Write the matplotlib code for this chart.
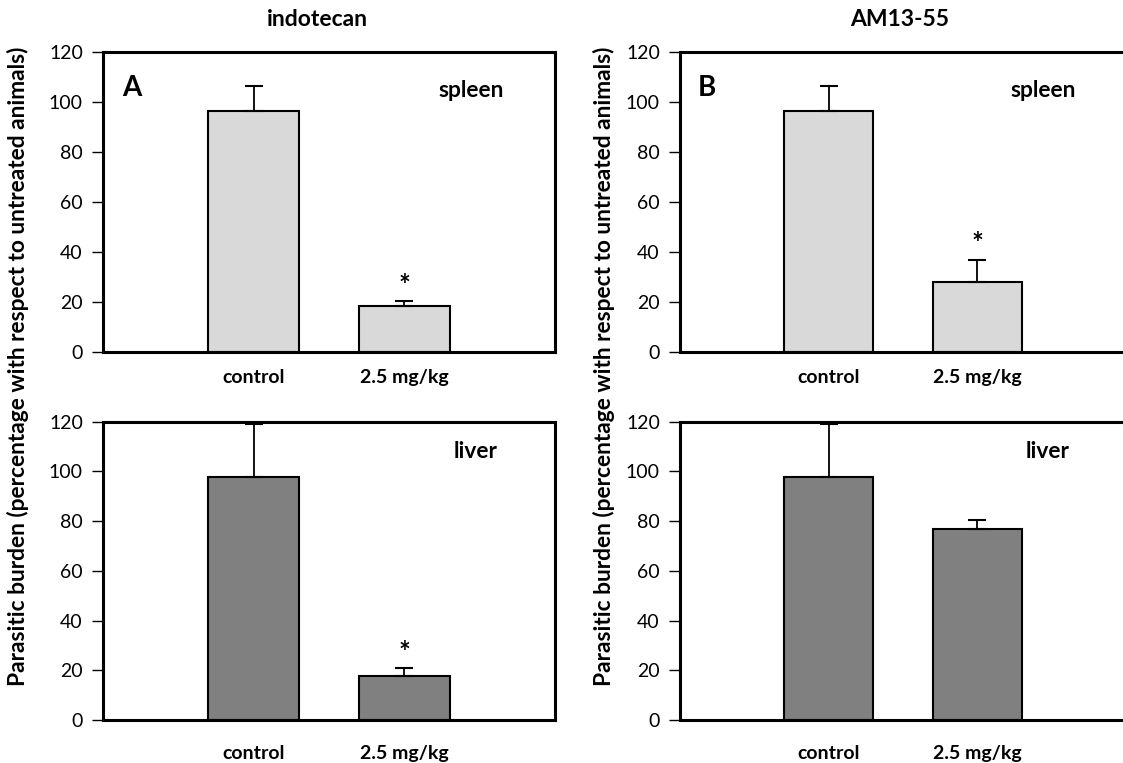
import matplotlib
matplotlib.use("Agg")
import matplotlib.pyplot as plt

plt.rcParams['font.family'] = ['Lato', 'DejaVu Sans']

W, H = 1123, 763

categories = ["control", "2.5 mg/kg"]
drugs = ["indotecan", "AM13-55"]
panel_letters = ["A", "B"]
organs = ["spleen", "liver"]

# values -> [control, 2.5 mg/kg]
spleen_indotecan = [96.5, 18.5]
spleen_indotecan_err = [10.0, 1.8]
spleen_am1355 = [96.4, 28.1]
spleen_am1355_err = [10.0, 8.7]
liver_indotecan = [97.6, 17.8]
liver_indotecan_err = [21.4, 3.0]
liver_am1355 = [97.6, 76.7]
liver_am1355_err = [21.4, 3.9]

significant = {
    ("spleen", 0): [False, True],
    ("spleen", 1): [False, True],
    ("liver", 0): [False, True],
    ("liver", 1): [False, False],
}
data = {
    ("spleen", 0): (spleen_indotecan, spleen_indotecan_err),
    ("spleen", 1): (spleen_am1355, spleen_am1355_err),
    ("liver", 0): (liver_indotecan, liver_indotecan_err),
    ("liver", 1): (liver_am1355, liver_am1355_err),
}
bar_colors = {"spleen": "#d9d9d9", "liver": "#808080"}

yticks = [0, 20, 40, 60, 80, 100, 120]

fig = plt.figure(figsize=(W / 100, H / 100), dpi=100)

def px_axes(left, right, top, bottom):
    return fig.add_axes([left / W, (H - bottom) / H, (right - left) / W, (bottom - top) / H])

col_lr = [(103, 555), (680, 1126)]
row_tb = [(52, 352), (421.7, 720)]
letter_x = [0.126, 0.12]

for r, organ in enumerate(organs):
    for c in range(2):
        l, rr = col_lr[c]
        t, b = row_tb[r]
        ax = px_axes(l, rr, t, b)
        vals, errs = data[(organ, c)]
        x = [1, 2]
        ax.bar(x, vals, width=0.6, color=bar_colors[organ], edgecolor="black",
               linewidth=1.5, zorder=2)
        ax.errorbar(x, vals, yerr=[[0, 0], errs], fmt="none", ecolor="black",
                    elinewidth=1.3, capsize=6.5, capthick=1.5, zorder=3)
        for xi, v, e, s in zip(x, vals, errs, significant[(organ, c)]):
            if s:
                ax.text(xi, v + e + 3.0, "*", ha="center", va="baseline",
                        fontsize=20, fontweight="bold")
        ax.set_xlim(0, 3)
        ax.set_ylim(0, 120)
        ax.set_yticks(yticks)
        ax.set_yticklabels([str(v) for v in yticks], fontsize=14)
        ax.set_xticks(x)
        ax.set_xticklabels(categories, fontsize=14, fontweight="bold")
        ax.tick_params(axis="x", length=0, pad=12.5 if r == 0 else 18)
        ax.tick_params(axis="y", length=8, width=1.0, pad=6.5, direction="out")
        for sp in ax.spines.values():
            sp.set_linewidth(2.2)
        if r == 0:
            ax.text(letter_x[c], 105.5, panel_letters[c], fontsize=20, fontweight="bold",
                    ha="left", va="center")
            ax.text(2.445, 104.4, organ, fontsize=16.4, fontweight="bold",
                    ha="center", va="center")
        else:
            ax.text(2.47, 108, organ, fontsize=16.4, fontweight="bold",
                    ha="center", va="center")

fig.text(317 / W, 1 - 20 / H, drugs[0], fontsize=16.5, fontweight="bold",
         ha="center", va="center")
fig.text(900 / W, 1 - 20 / H, drugs[1], fontsize=16.5, fontweight="bold",
         ha="center", va="center")

ylabel = "Parasitic burden (percentage with respect to untreated animals)"
for xc in (18, 604):
    fig.text(xc / W, 1 - 366.5 / H, ylabel, rotation=90, fontsize=16.4,
             fontweight="bold", ha="center", va="center")

fig.savefig("out.png", dpi=100)
